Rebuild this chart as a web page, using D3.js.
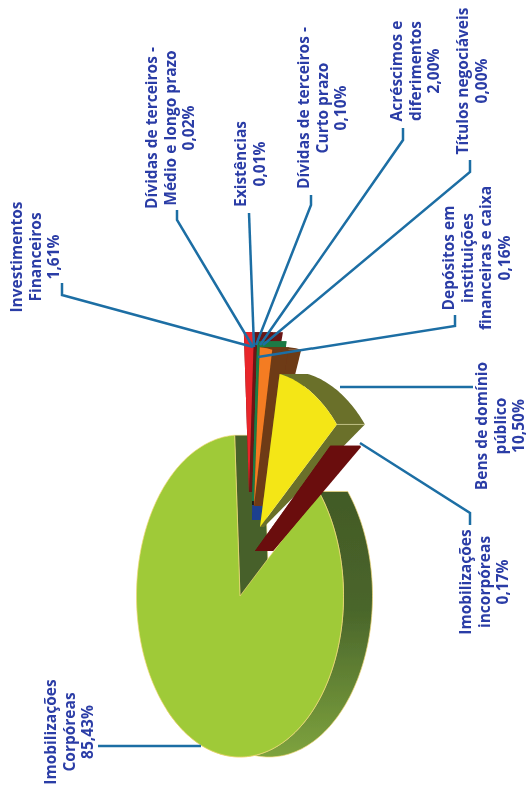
<!DOCTYPE html>
<html><head><meta charset="utf-8">
<script src="https://cdn.jsdelivr.net/npm/d3@7"></script>
<style>html,body{margin:0;padding:0;background:#fff}svg{display:block}</style>
</head><body><svg id="c" width="528" height="796"></svg>
<script>
// ---- data
const categories = ["Imobilizações Corpóreas","Investimentos Financeiros","Dívidas de terceiros - Médio e longo prazo","Existências","Dívidas de terceiros - Curto prazo","Acréscimos e diferimentos","Títulos negociáveis","Depósitos em instituições financeiras e caixa","Bens de domínio público","Imobilizações incorpóreas"];
const values = [85.43,1.61,0.02,0.01,0.10,2.00,0.00,0.16,10.50,0.17];
const valueLabels = ["85,43%","1,61%","0,02%","0,01%","0,10%","2,00%","0,00%","0,16%","10,50%","0,17%"];
const labelLines = [["Imobilizações","Corpóreas"],["Investimentos","Financeiros"],["Dívidas de terceiros -","Médio e longo prazo"],["Existências"],["Dívidas de terceiros -","Curto prazo"],["Acréscimos e","diferimentos"],["Títulos negociáveis"],["Depósitos em","instituições","financeiras e caixa"],["Bens de domínio","público"],["Imobilizações","incorpóreas"]];
// ---- styles
const topColors = ["#9fca38","#e8262a","#1f3f8f","#20201a","#1d8a4a","#f47c20","#888888","#6a3a12","#f4e614","#6a0a0a"];
const wallColors = ["#46602a","#6a1212","#1f3f8f","#20201a","#1d7a44","#6e3a14","#888888","#6a3a12","#6a6f2c","#6a0a0a"];
// ---- layout per slice: apex, radii, depth at rim, depth at apex
const apexX = [240,249,252,252,252,254,254,254,260,255];
const apexY = [596,492,520,505,501,506,506,506,527,551];
const radX  = [103.5,100,100,100,100,100,100,100,102,100];
const radY  = [161,160,160,160,160,159,159,159,156,160];
const depthRim = [29,29,29,29,29,29,0,0,28,30];
const depthApex = [29,6,10,4,8,9,0,0,4,18];
const startDeg = 49.5;

const svg = d3.select("#c");
const defs = svg.append("defs");
const f = defs.append("filter").attr("id","soft").attr("x",0).attr("y",0).attr("width","100%").attr("height","100%");
f.append("feGaussianBlur").attr("stdDeviation",0.45);
const rimGrad = defs.append("linearGradient").attr("id","rim").attr("x1",0).attr("x2",0).attr("y1",0).attr("y2",1);
rimGrad.append("stop").attr("offset","0%").attr("stop-color","#425a26");
rimGrad.append("stop").attr("offset","45%").attr("stop-color","#4a662b");
rimGrad.append("stop").attr("offset","100%").attr("stop-color","#7ea33e");
const root = svg.append("g").attr("filter","url(#soft)");

const slices = d3.pie().sort(null).startAngle(startDeg*Math.PI/180).endAngle((startDeg+360)*Math.PI/180)(values);
const pt = (i,a,dx=0) => [apexX[i]+dx+radX[i]*Math.sin(a), apexY[i]-radY[i]*Math.cos(a)];
const arcPts = (i,a0,a1,dx=0) => { const n=Math.max(2,Math.ceil(Math.abs(a1-a0)/0.02)); return d3.range(n+1).map(k=>pt(i,a0+(a1-a0)*k/n,dx)); };
const line = d3.line();
const poly = p => line(p)+"Z";
const edge = "#f2d878";

function drawSlice(i){
  const s = slices[i], d=depthRim[i], da=depthApex[i], A=[apexX[i],apexY[i]];
  if(s.endAngle-s.startAngle<1e-6) return;
  const g = root.append("g");
  if(i===0){
    const r1=Math.PI*1.25;
    g.append("path").attr("d",poly(arcPts(i,s.startAngle,r1).concat(arcPts(i,r1,s.startAngle,d)))).attr("fill","url(#rim)").attr("stroke",edge).attr("stroke-width",0.7);
    g.append("path").attr("d",poly([A,pt(i,s.endAngle),pt(i,s.endAngle,d),[A[0]+d,A[1]]])).attr("fill",wallColors[i]).attr("stroke",edge).attr("stroke-width",0.5);
  } else {
    g.append("path").attr("d",poly([A,pt(i,s.endAngle),pt(i,s.endAngle,d),[A[0]+da,A[1]]])).attr("fill",wallColors[i]);
    g.append("path").attr("d",poly([A,pt(i,s.startAngle),pt(i,s.startAngle,d),[A[0]+da,A[1]]])).attr("fill",wallColors[i]);
    g.append("path").attr("d",poly(arcPts(i,s.startAngle,s.endAngle).concat(arcPts(i,s.endAngle,s.startAngle,d)))).attr("fill",wallColors[i]);
    if(i===8) g.append("line").attr("x1",pt(i,s.endAngle)[0]).attr("y1",pt(i,s.endAngle)[1]).attr("x2",pt(i,s.endAngle,d)[0]).attr("y2",pt(i,s.endAngle)[1]).attr("stroke","#c9c98a").attr("stroke-width",0.8);
  }
  g.append("path").attr("d",poly([A,...arcPts(i,s.startAngle,s.endAngle)])).attr("fill",topColors[i]).attr("stroke",i===0?edge:"none").attr("stroke-width",0.7);
}
[0,1,2,3,4,7,5,8,9].forEach(drawSlice);

// ---- leaders
const leaders = [
 [[98,746],[201,746]],
 [[62,283],[62,295],[253,347]],
 [[177,210],[177,220],[253,347]],
 [[249,213],[254,347]],
 [[311,195],[311,205],[256,345]],
 [[403,128],[403,140],[260,345]],
 [[470,160],[470,172],[263,345]],
 [[455,315],[455,326],[258,357]],
 [[340,387],[473,387]],
 [[360,443],[470,513],[470,525]]
];
root.selectAll(".lead").data(leaders).join("path").attr("class","lead")
 .attr("d",d=>line(d)).attr("fill","none").attr("stroke","#1c6ea4").attr("stroke-width",2.5);

// ---- labels: x of first line, y centre
const labelX = [52,18,153,242,305,398,464,450,483,467];
const labelY = [732,257,128,164,108,71,81,258,426,582];
const lineGap = 18.6;
categories.forEach((c,i)=>{
  const lines = labelLines[i].concat([valueLabels[i]]);
  const g = root.append("g");
  lines.forEach((t,k)=>{
    g.append("text").attr("transform",`translate(${labelX[i]+k*lineGap},${labelY[i]}) rotate(-90)`)
     .attr("text-anchor","middle").attr("dominant-baseline","middle")
     .attr("font-family","'Open Sans', sans-serif").attr("font-weight",700).attr("font-size",15.5)
     .attr("fill","#2b3ca6").text(t);
  });
});
</script></body></html>
